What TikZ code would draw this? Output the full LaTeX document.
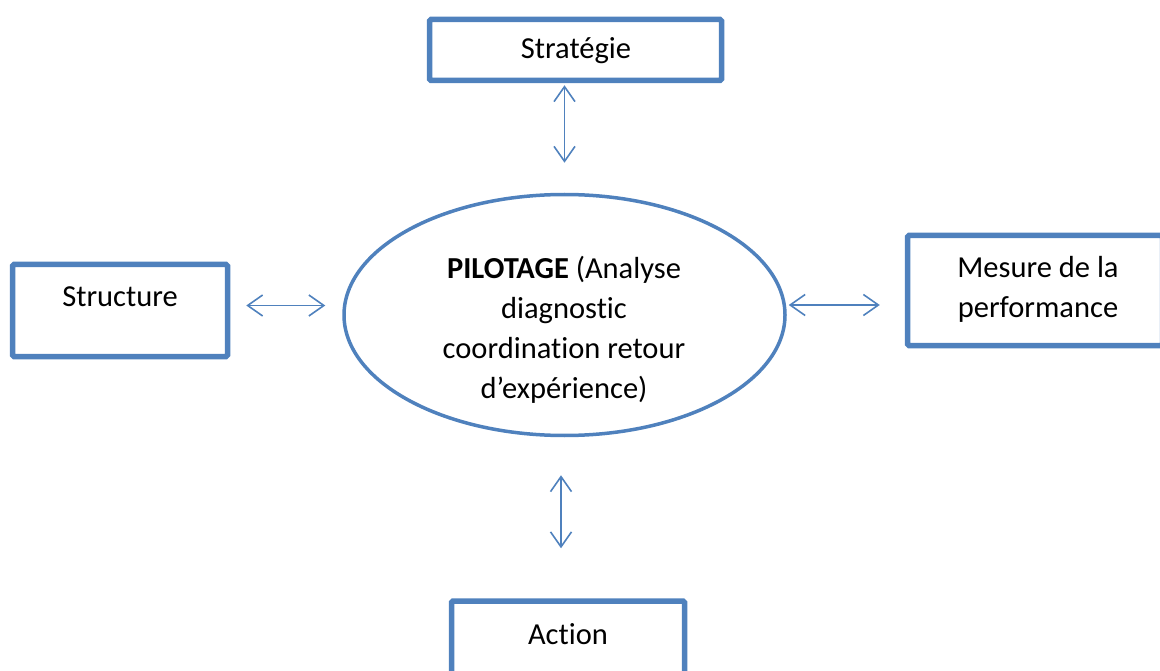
\documentclass[tikz,border=0pt]{standalone}
\usepackage{fontspec}
\setmainfont{Carlito}[Ligatures=NoCommon]
\usetikzlibrary{arrows.meta, positioning, shapes.geometric}
\definecolor{boxblue}{HTML}{4F81BD}
\tikzset{
x=1pt, y=-1pt,
blue box/.style={draw=boxblue, line width=5.5pt, rectangle, inner sep=0pt, rounded corners=1.5pt},
pilot ellipse/.style={draw=boxblue, line width=3.5pt, ellipse, inner sep=0pt, minimum width=441pt, minimum height=241pt},
box text/.style={font=\fontsize{30.5}{40}\selectfont, align=center, inner sep=0pt},
link/.style={draw=boxblue, line width=1.6pt, {Straight Barb[length=15pt,width=21pt]}-{Straight Barb[length=15pt,width=21pt]}},
}
\begin{document}
\begin{tikzpicture}
\useasboundingbox (0,0) rectangle (1160,671);

% boxes round the centre
\node[blue box, minimum width=292pt, minimum height=61pt] (strategie) at (575.5,50) {};
\node[blue box, minimum width=215pt, minimum height=92pt] (structure) at (120,310.5) {};
\node[blue box, minimum width=255pt, minimum height=110pt] (mesure) at (1035,290.5) {};
\node[blue box, minimum width=233pt, minimum height=100pt] (action) at (568,651) {};
\node[pilot ellipse] (pilotage) at (564.5,315) {};

% texts
\node[box text] (strategie text) at (576,51) {Stratégie};
\node[box text] (structure text) at (120,297) {Structure};
\node[box text] (mesure text) at (1038,289) {Mesure de la\\performance};
\node[box text] (action text) at (568,634) {Action};
\node[box text] (pilotage text) at (564,330) {\textbf{PILOTAGE} (Analyse\\diagnostic\\coordination retour\\d’expérience)};

% double arrows
\draw[link, shorten <=2pt, shorten >=30pt] (strategie.south -| pilotage.north) -- (pilotage.north);
\draw[link, shorten <=16pt, shorten >=17pt] ([yshift=5pt]structure.east) -- ([yshift=5pt]structure.east -| pilotage.west);
\draw[link, shorten <=2pt, shorten >=25pt] ([yshift=10pt]pilotage.east) -- ([yshift=10pt]pilotage.east -| mesure.west);
\draw[link, shorten <=38pt, shorten >=50pt] ([xshift=-3.5pt]pilotage.south) -- ([xshift=-3.5pt]pilotage.south |- action.north);
\end{tikzpicture}
\end{document}
